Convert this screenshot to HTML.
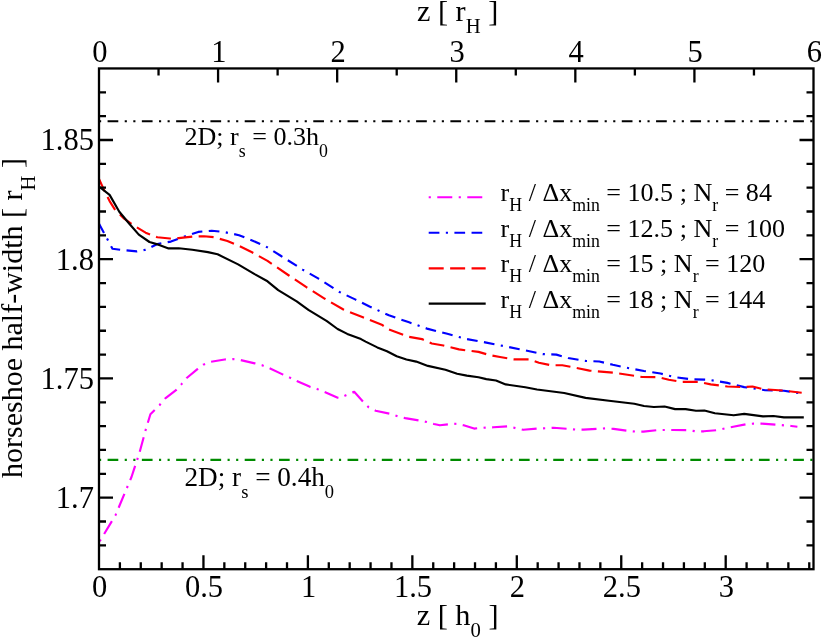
<!DOCTYPE html>
<html><head><meta charset="utf-8"><title>plot</title>
<style>
html,body{margin:0;padding:0;background:#fff;}
body{width:822px;height:639px;overflow:hidden;}
svg{display:block;will-change:transform;}
text{font-family:"Liberation Serif",serif;fill:#000;}
</style></head><body>
<svg width="822" height="639" viewBox="0 0 822 639">
<rect width="822" height="639" fill="#fff"/>

<g fill="none" stroke-width="2.15" stroke-linejoin="round">
<path d="M99.0,121.2 H813.5" stroke="#000" stroke-dasharray="10.71 6.43 2.14 6.43 2.14 6.43" stroke-dashoffset="25.70"/>
<path d="M99.0,459.8 H813.5" stroke="#008b00" stroke-dasharray="10.71 6.43 2.14 6.43 2.14 6.43" stroke-dashoffset="25.70"/>
<path d="M99.7,541.3 L115.5,515.2 L131.5,477.0 L139.3,453.3 L145.5,430.5 L150.4,414.2 L159.5,405.2 L165.3,398.4 L176.0,390.2 L181.3,384.4 L186.7,378.0 L197.4,369.2 L203.3,364.7 L211.0,361.8 L224.7,359.5 L233.0,359.1 L240.2,360.0 L254.8,363.4 L262.2,365.3 L269.4,368.2 L283.1,374.6 L289.5,377.4 L296.8,381.1 L309.5,386.6 L316.9,388.9 L324.1,391.8 L337.7,397.7 L340.0,398.0 L345.5,395.4 L354.2,391.8 L363.6,402.2 L368.8,407.4 L375.6,410.7 L390.2,413.8 L397.6,416.2 L405.2,418.1 L419.4,420.5 L426.8,422.0 L434.0,424.0 L439.9,425.3 L448.8,424.3 L456.5,423.7 L463.7,425.3 L474.1,428.6 L478.0,428.2 L485.7,427.6 L493.5,427.3 L508.1,426.3 L515.9,428.2 L523.3,429.8 L537.3,428.6 L545.5,428.2 L553.5,427.8 L567.5,428.8 L575.7,429.6 L583.5,429.6 L597.7,428.8 L606.0,428.4 L613.6,428.9 L628.0,430.8 L635.5,431.6 L643.5,431.6 L658.3,430.0 L666.3,430.0 L673.5,430.0 L688.5,430.2 L695.7,431.3 L703.8,431.3 L718.5,430.0 L726.0,428.1 L733.2,426.8 L746.6,424.1 L753.8,423.6 L761.3,423.6 L776.0,424.6 L784.0,425.4 L791.3,426.0 L797.4,426.8" stroke="#ff00ff" stroke-dasharray="2.14 6.43 15.00 6.43"/>
<path d="M98.9,223.5 L104.7,234.2 L112.5,248.8 L124.2,250.2 L136.8,251.4 L145.6,249.8 L157.3,244.0 L170.9,241.6 L182.6,237.2 L198.2,231.9 L211.8,230.7 L223.5,231.9 L239.0,235.2 L250.0,239.5 L265.6,246.3 L281.1,256.0 L302.6,269.6 L318.1,278.4 L339.5,292.0 L355.1,299.4 L369.5,306.5 L388.9,315.3 L408.4,322.1 L427.9,328.9 L447.3,333.8 L466.8,339.1 L486.3,342.6 L500.0,345.3 L519.5,349.2 L542.8,354.1 L556.4,354.6 L568.1,358.0 L585.6,360.9 L599.3,361.5 L612.9,364.8 L626.5,367.7 L644.0,371.0 L660.5,373.5 L675.1,377.2 L691.8,379.3 L708.6,379.8 L727.4,382.9 L744.2,387.1 L765.1,390.2 L783.9,390.8 L801.7,393.4" stroke="#0000ff" stroke-dasharray="2.14 6.43 10.71 6.43 10.71 6.43" stroke-dashoffset="25.71"/>
<path d="M98.9,178.8 L104.7,191.4 L109.6,201.1 L114.5,208.9 L124.2,218.7 L133.9,225.5 L145.6,232.7 L157.3,237.2 L169.9,238.5 L178.7,238.1 L192.3,236.6 L204.0,236.2 L213.7,237.2 L227.4,241.0 L239.0,245.9 L252.0,252.3 L267.5,260.9 L288.9,275.5 L306.4,287.2 L324.9,298.8 L343.4,309.5 L362.9,317.3 L382.4,325.1 L388.9,329.5 L408.4,336.7 L422.0,339.1 L431.8,343.5 L443.4,345.5 L459.0,349.4 L478.5,351.9 L490.1,355.2 L500.0,357.0 L513.6,359.3 L529.2,359.3 L538.9,362.8 L550.6,365.2 L562.3,365.2 L577.9,368.3 L589.5,370.6 L612.9,372.6 L632.4,375.5 L642.1,377.0 L658.4,377.2 L668.8,379.8 L681.4,381.8 L698.1,381.8 L710.7,384.4 L727.4,386.5 L742.1,387.1 L752.5,386.5 L763.0,389.2 L783.9,390.6 L801.7,392.7" stroke="#ff0000" stroke-dasharray="15.00 6.43" stroke-dashoffset="1.2"/>
<path d="M98.9,186.5 L109.6,194.9 L119.3,211.8 L129.1,223.5 L138.8,234.6 L149.5,242.0 L159.2,244.9 L168.6,248.4 L178.7,248.2 L192.3,249.8 L207.9,252.1 L217.6,254.3 L238.1,264.4 L254.6,274.1 L267.5,281.3 L278.2,290.1 L296.7,301.4 L308.4,309.9 L326.9,321.2 L337.6,329.0 L347.3,333.9 L361.0,339.1 L365.6,341.6 L377.3,347.4 L387.0,351.3 L396.7,356.2 L406.4,359.5 L416.2,361.6 L427.9,365.9 L445.4,369.8 L457.1,373.7 L466.8,375.6 L478.5,377.2 L486.3,379.1 L496.0,380.5 L505.7,384.4 L525.3,387.2 L537.0,389.5 L564.2,393.0 L585.6,397.9 L609.0,400.8 L634.3,403.7 L644.0,406.0 L653.8,407.0 L664.6,406.5 L675.1,409.1 L685.6,409.1 L696.0,410.7 L704.4,410.5 L714.9,413.2 L733.7,415.3 L744.2,413.9 L763.0,416.4 L773.5,416.0 L783.9,417.4 L803.8,417.4" stroke="#000"/>
<path d="M428.7,197.2 H485.7" stroke="#ff00ff" stroke-dasharray="2.14 6.43 15.00 6.43"/>
<path d="M428.7,232.7 H485.7" stroke="#0000ff" stroke-dasharray="2.14 6.43 10.71 6.43 10.71 6.43" stroke-dashoffset="25.71"/>
<path d="M428.7,268.3 H485.7" stroke="#ff0000" stroke-dasharray="15.00 6.43"/>
<path d="M428.7,303.6 H485.7" stroke="#000"/>
</g>
<g fill="none" stroke="#000" stroke-width="2.3" stroke-linecap="butt">
<rect x="99.0" y="68.45" width="714.5" height="500.75000000000006"/>
<path d="M119.89,569.2 v-7 M140.78,569.2 v-7 M161.67,569.2 v-7 M182.56,569.2 v-7 M203.45,569.2 v-14 M224.34,569.2 v-7 M245.23,569.2 v-7 M266.12,569.2 v-7 M287.01,569.2 v-7 M307.90,569.2 v-14 M328.79,569.2 v-7 M349.68,569.2 v-7 M370.57,569.2 v-7 M391.46,569.2 v-7 M412.35,569.2 v-14 M433.24,569.2 v-7 M454.13,569.2 v-7 M475.02,569.2 v-7 M495.91,569.2 v-7 M516.80,569.2 v-14 M537.69,569.2 v-7 M558.58,569.2 v-7 M579.47,569.2 v-7 M600.36,569.2 v-7 M621.25,569.2 v-14 M642.14,569.2 v-7 M663.03,569.2 v-7 M683.92,569.2 v-7 M704.81,569.2 v-7 M725.70,569.2 v-14 M746.59,569.2 v-7 M767.48,569.2 v-7 M788.37,569.2 v-7 M809.26,569.2 v-7 M158.54,68.45 v7 M218.08,68.45 v14 M277.62,68.45 v7 M337.17,68.45 v14 M396.71,68.45 v7 M456.25,68.45 v14 M515.79,68.45 v7 M575.33,68.45 v14 M634.88,68.45 v7 M694.42,68.45 v14 M753.96,68.45 v7 M99.0,545.35 h7 M813.5,545.35 h-7 M99.0,521.51 h7 M813.5,521.51 h-7 M99.0,497.66 h14 M813.5,497.66 h-14 M99.0,473.82 h7 M813.5,473.82 h-7 M99.0,449.97 h7 M813.5,449.97 h-7 M99.0,426.13 h7 M813.5,426.13 h-7 M99.0,402.28 h7 M813.5,402.28 h-7 M99.0,378.44 h14 M813.5,378.44 h-14 M99.0,354.59 h7 M813.5,354.59 h-7 M99.0,330.75 h7 M813.5,330.75 h-7 M99.0,306.90 h7 M813.5,306.90 h-7 M99.0,283.06 h7 M813.5,283.06 h-7 M99.0,259.21 h14 M813.5,259.21 h-14 M99.0,235.37 h7 M813.5,235.37 h-7 M99.0,211.52 h7 M813.5,211.52 h-7 M99.0,187.68 h7 M813.5,187.68 h-7 M99.0,163.83 h7 M813.5,163.83 h-7 M99.0,139.99 h14 M813.5,139.99 h-14 M99.0,116.14 h7 M813.5,116.14 h-7 M99.0,92.30 h7 M813.5,92.30 h-7"/>
</g>
<g font-size="30.5">
<text x="99.6" y="597.2" text-anchor="middle">0</text>
<text x="204.0" y="597.2" text-anchor="middle">0.5</text>
<text x="308.5" y="597.2" text-anchor="middle">1</text>
<text x="413.0" y="597.2" text-anchor="middle">1.5</text>
<text x="517.4" y="597.2" text-anchor="middle">2</text>
<text x="621.9" y="597.2" text-anchor="middle">2.5</text>
<text x="726.3" y="597.2" text-anchor="middle">3</text>
<text x="99.8" y="61.8" text-anchor="middle">0</text>
<text x="218.9" y="61.8" text-anchor="middle">1</text>
<text x="338.0" y="61.8" text-anchor="middle">2</text>
<text x="457.1" y="61.8" text-anchor="middle">3</text>
<text x="576.1" y="61.8" text-anchor="middle">4</text>
<text x="695.2" y="61.8" text-anchor="middle">5</text>
<text x="814.3" y="61.8" text-anchor="middle">6</text>
<text x="93.9" y="150.3" text-anchor="end">1.85</text>
<text x="93.9" y="269.5" text-anchor="end">1.8</text>
<text x="93.9" y="388.7" text-anchor="end">1.75</text>
<text x="93.9" y="508.0" text-anchor="end">1.7</text>
<text font-size="30.3" x="457.6" y="21.3" text-anchor="middle">z [ r<tspan font-size="20.7" dy="11.6">H</tspan><tspan dy="-11.6"> ]</tspan></text>
<text font-size="30.3" x="457.6" y="624.7" text-anchor="middle">z [ h<tspan font-size="20.7" dy="12.2">0</tspan><tspan dy="-12.2"> ]</tspan></text>
<text font-size="30.0" transform="translate(22.0,318.0) rotate(-90)" text-anchor="middle">horseshoe half-width [ r<tspan font-size="20.7" dy="12.5">H</tspan><tspan dy="-12.5"> ]</tspan></text>
</g>
<g font-size="26.05">
<text x="184.5" y="145.2">2D; r<tspan font-size="17.8" dy="11.5">s</tspan><tspan dy="-11.5"> = 0.3h</tspan><tspan font-size="17.8" dy="11.5">0</tspan></text>
<text font-size="27.2" x="184.5" y="486.2">2D; r<tspan font-size="18.5" dy="11.5">s</tspan><tspan dy="-11.5"> = 0.4h</tspan><tspan font-size="18.5" dy="11.5">0</tspan></text>
<text x="500.6" y="201.2">r<tspan font-size="17.8" dy="10">H</tspan><tspan dy="-10"> / Δx</tspan><tspan font-size="17.8" dy="10">min</tspan><tspan dy="-10"> = 10.5 ; N</tspan><tspan font-size="17.8" dy="10">r</tspan><tspan dy="-10"> = 84</tspan></text>
<text x="500.6" y="236.7">r<tspan font-size="17.8" dy="10">H</tspan><tspan dy="-10"> / Δx</tspan><tspan font-size="17.8" dy="10">min</tspan><tspan dy="-10"> = 12.5 ; N</tspan><tspan font-size="17.8" dy="10">r</tspan><tspan dy="-10"> = 100</tspan></text>
<text x="500.6" y="272.2">r<tspan font-size="17.8" dy="10">H</tspan><tspan dy="-10"> / Δx</tspan><tspan font-size="17.8" dy="10">min</tspan><tspan dy="-10"> = 15 ; N</tspan><tspan font-size="17.8" dy="10">r</tspan><tspan dy="-10"> = 120</tspan></text>
<text x="500.6" y="307.7">r<tspan font-size="17.8" dy="10">H</tspan><tspan dy="-10"> / Δx</tspan><tspan font-size="17.8" dy="10">min</tspan><tspan dy="-10"> = 18 ; N</tspan><tspan font-size="17.8" dy="10">r</tspan><tspan dy="-10"> = 144</tspan></text>
</g>
</svg></body></html>
